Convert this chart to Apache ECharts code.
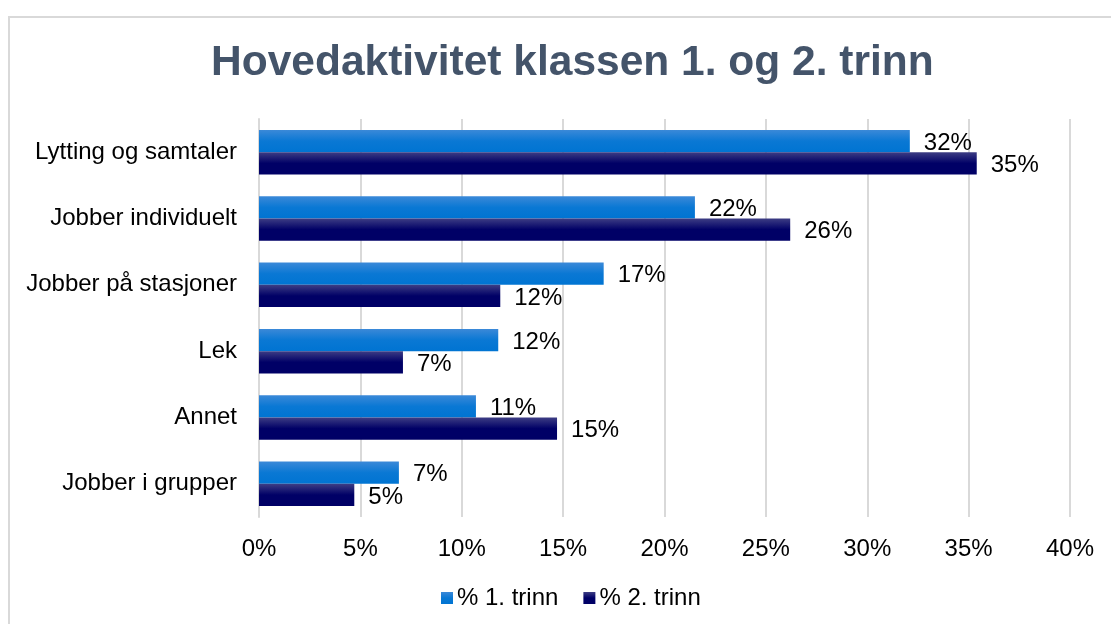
<!DOCTYPE html>
<html>
<head>
<meta charset="utf-8">
<script src="https://cdn.jsdelivr.net/npm/echarts@6/dist/echarts.min.js"></script>
<style>
	html, body { margin: 0; padding: 0; background: #fff; }
	#frame { position: absolute; left: 8px; top: 16px; width: 1200px; height: 700px; border: 2px solid #d9d9d9; box-sizing: border-box; }
	#chart { position: absolute; left: 0; top: 0; width: 1111px; height: 624px; }
</style>
</head>
<body>
	<div id="frame"></div>
	<div id="chart"></div>
	<script>
		// kategorier (nedenfra og opp, slik ECharts tegner y-aksen)
		var categories = ['Jobber i grupper', 'Annet', 'Lek', 'Jobber på stasjoner', 'Jobber individuelt', 'Lytting og samtaler'];
		var trinn1 = [6.9, 10.7, 11.8, 17.0, 21.5, 32.1];
		var trinn2 = [4.7, 14.7, 7.1, 11.9, 26.2, 35.4];
		var seriesNames = ['% 1. trinn', '% 2. trinn'];

		var myChart = echarts.init(document.getElementById('chart'));

		function grad(top, mid, bottom){
			return new echarts.graphic.LinearGradient(0, 0, 0, 1, [
				{offset: 0, color: top},
				{offset: 0.5, color: mid},
				{offset: 1, color: bottom}
			]);
		}

		var labelStyle = {
			show: true,
			position: 'right',
			distance: 14,
			offset: [0, 2],
			color: '#000',
			fontFamily: 'Liberation Sans',
			fontSize: 24,
			formatter: function(p){ return Math.round(p.value) + '%'; }
		};

		var option = {
			animation: false,
			title: {
				text: 'Hovedaktivitet klassen 1. og 2. trinn',
				left: 206,
				top: 37,
				textStyle: { fontFamily: 'Liberation Sans', fontSize: 42.5, fontWeight: 'bold', color: '#44546a' }
			},
			legend: {
				bottom: 9,
				left: 436,
				itemWidth: 12,
				itemHeight: 12,
				itemGap: 25,
				icon: 'rect',
				textStyle: { fontFamily: 'Liberation Sans', fontSize: 24, color: '#000', padding: [0, 0, 0, -1] },
				data: seriesNames
			},
			grid: { left: 259, right: 41, top: 119, bottom: 107 },
			xAxis: {
				type: 'value',
				min: 0,
				max: 40,
				interval: 5,
				axisLine: { show: false },
				axisTick: { show: false },
				splitLine: { lineStyle: { color: '#d9d9d9', width: 2 } },
				axisLabel: {
					margin: 20,
					fontFamily: 'Liberation Sans',
					fontSize: 24,
					color: '#000',
					formatter: '{value}%'
				}
			},
			yAxis: {
				type: 'category',
				data: categories,
				axisLine: { lineStyle: { color: '#d9d9d9', width: 2 } },
				axisTick: { show: false },
				axisLabel: { margin: 22, fontFamily: 'Liberation Sans', fontSize: 24, color: '#000' }
			},
			series: [{
				name: seriesNames[0],
				type: 'bar',
				data: trinn1,
				barGap: '0%',
				barCategoryGap: '33%',
				itemStyle: { color: grad('#3b89d8', '#0a78d4', '#0074d2') },
				label: labelStyle
			}, {
				name: seriesNames[1],
				type: 'bar',
				data: trinn2,
				itemStyle: { color: grad('#3d3d84', '#000066', '#000066') },
				label: labelStyle
			}]
		};
		myChart.setOption(option);
	</script>
</body>
</html>
